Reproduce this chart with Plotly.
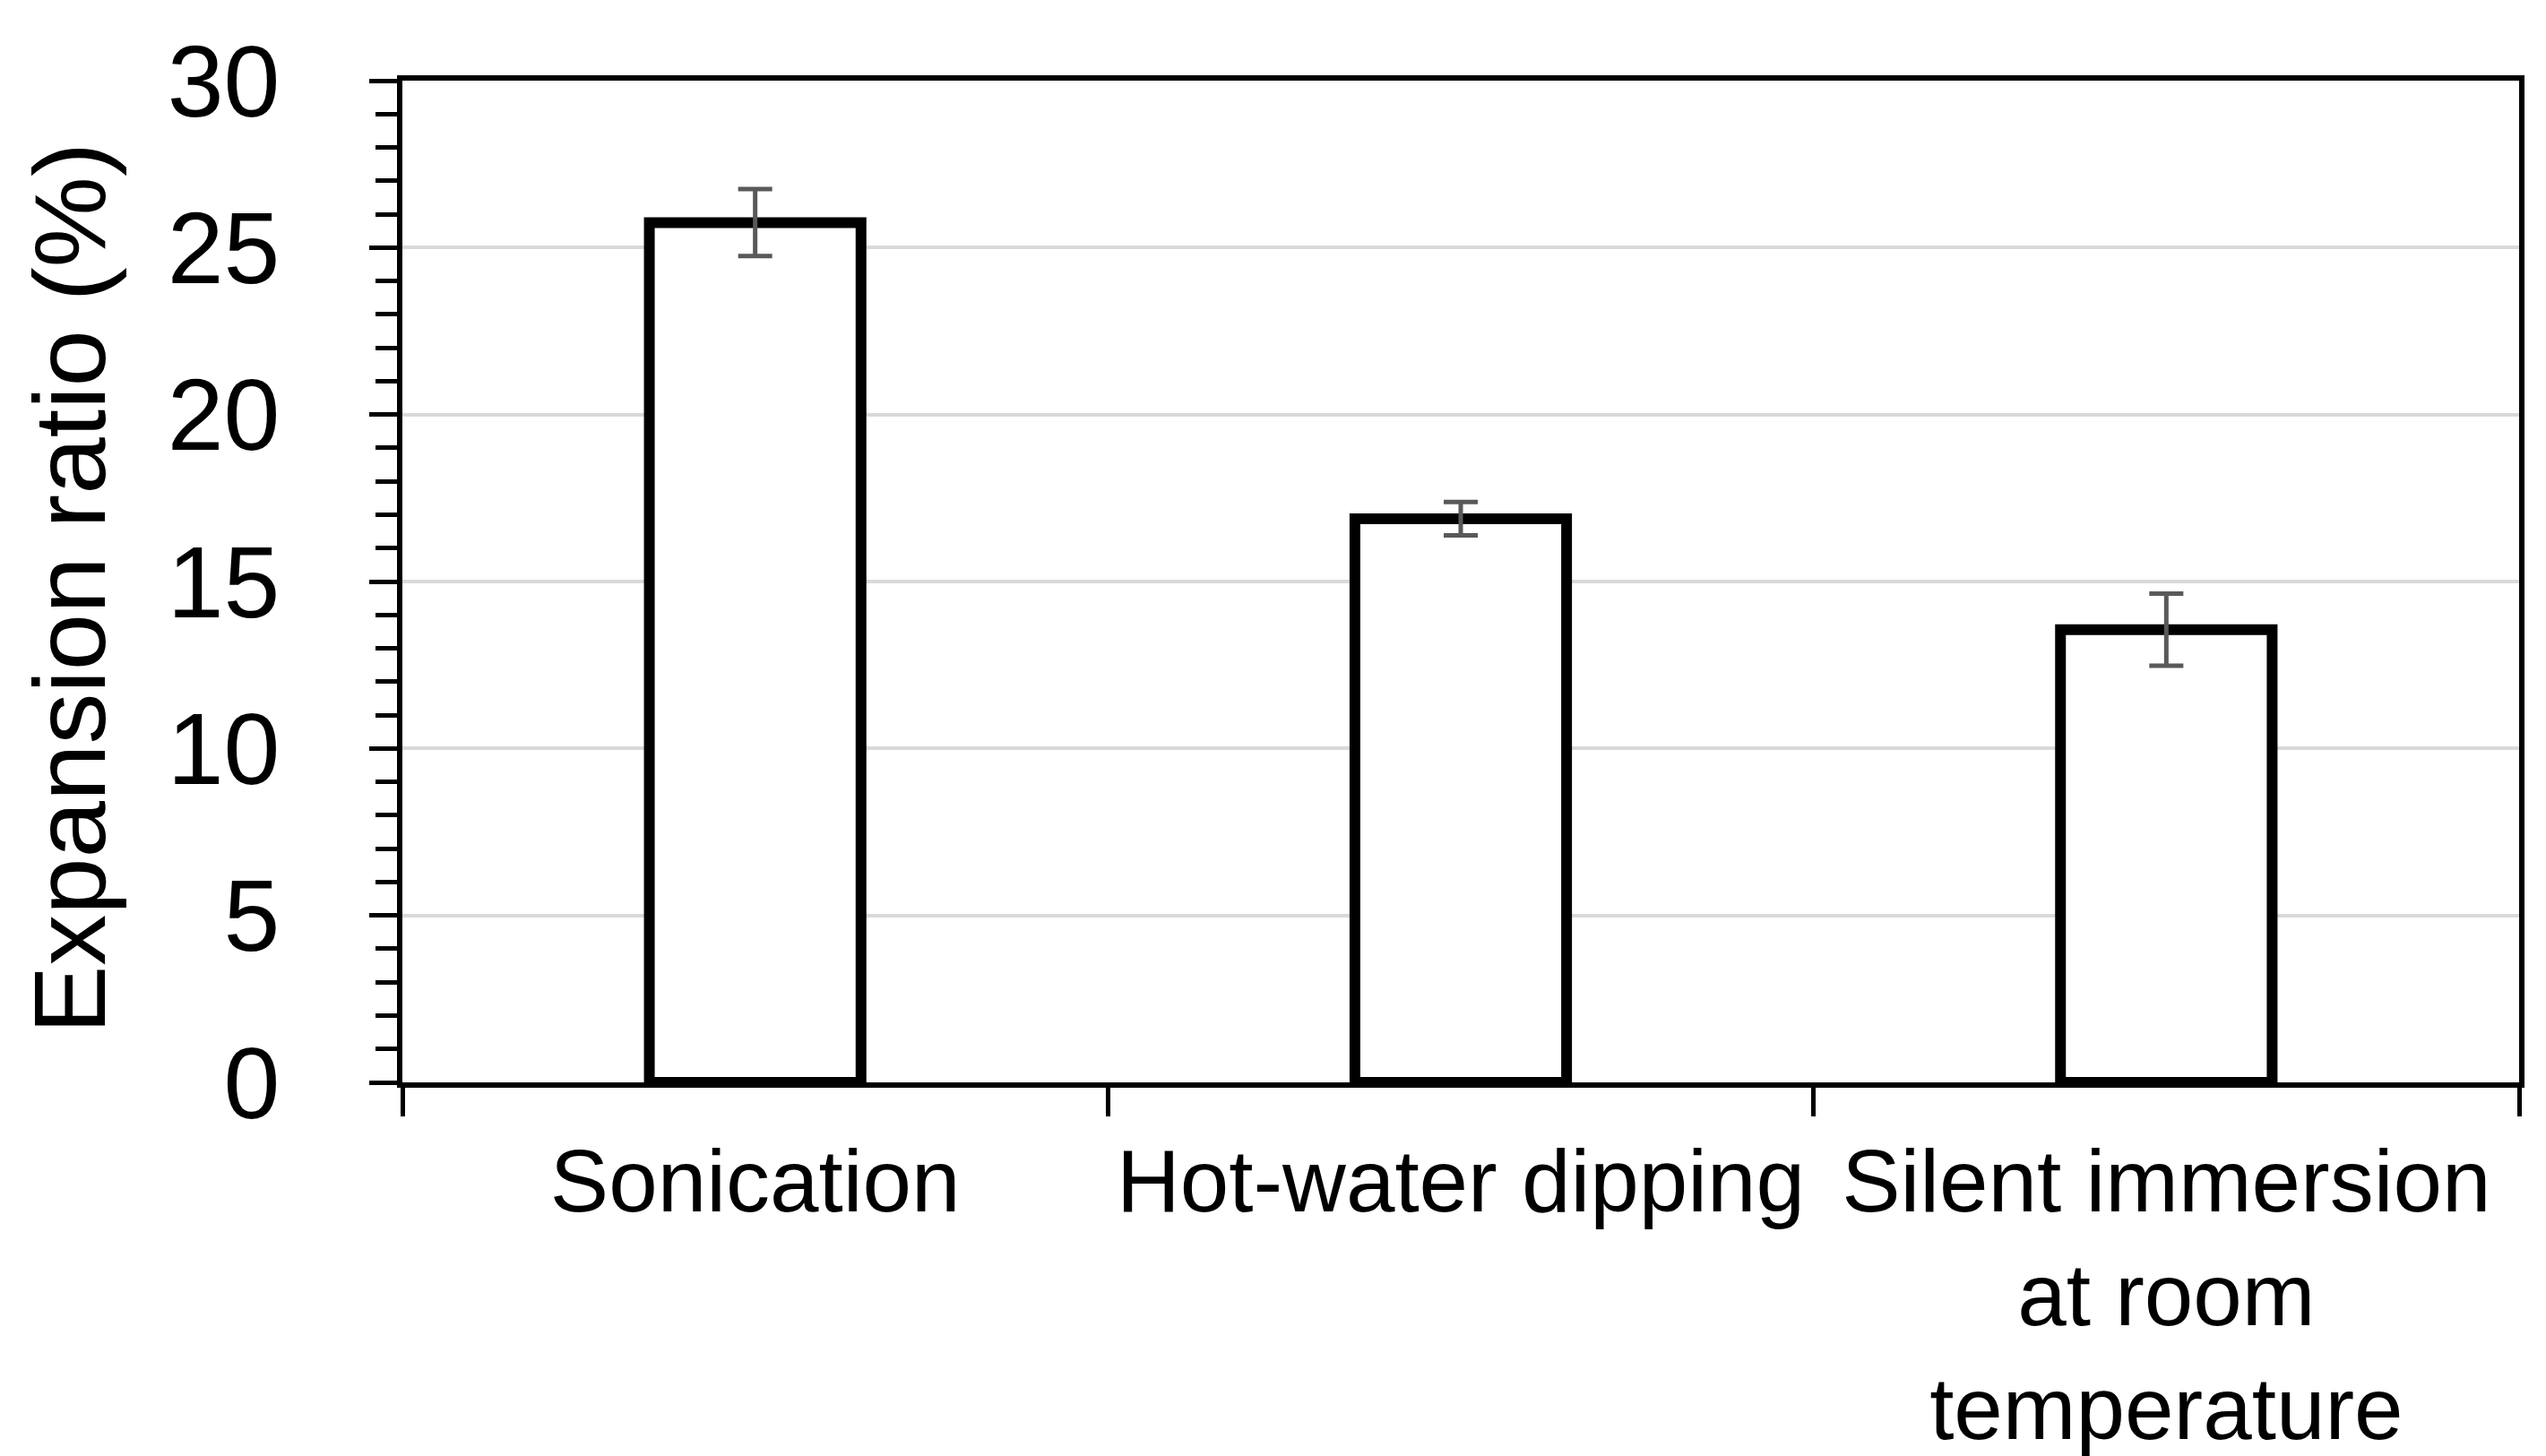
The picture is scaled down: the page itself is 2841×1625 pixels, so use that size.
import plotly.graph_objects as go

categories = ["Sonication", "Hot-water dipping", "Silent immersion<br>at room<br>temperature"]
expansion_ratio = [25.75, 16.88, 13.56]
error_sd = [1.0, 0.5, 1.08]
y_ticks = [0, 5, 10, 15, 20, 25, 30]

FONT = "Arial, Liberation Sans, sans-serif"

fig = go.Figure()
fig.add_trace(go.Bar(
    x=categories,
    y=expansion_ratio,
    marker=dict(color="white", line=dict(color="black", width=12)),
    error_y=dict(type="data", array=error_sd, visible=True,
                 color="#595959", thickness=5, width=19),
    cliponaxis=False,
    showlegend=False,
))

W, H = 2841, 1625
L, R, T, B = 441, 38, 82, 425
PW = W - L - R

fig.update_layout(
    width=W, height=H,
    margin=dict(l=L, r=R, t=T, b=B, pad=0),
    paper_bgcolor="white",
    plot_bgcolor="white",
    bargap=0.70,
    font=dict(family=FONT, color="black"),
    xaxis=dict(
        type="category",
        tickson="boundaries",
        ticks="outside", ticklen=32, tickwidth=5, tickcolor="black",
        showline=True, linewidth=6, linecolor="black", mirror=True,
        showgrid=False,
        tickangle=0,
        tickfont=dict(size=98, family=FONT, color="black"),
        ticklabelstandoff=20,
        automargin=False,
    ),
    yaxis=dict(
        range=[0, 30],
        tickvals=y_ticks,
        ticks="outside", ticklen=31, tickwidth=5, tickcolor="black",
        minor=dict(dtick=1, ticks="outside", ticklen=24, tickwidth=5,
                   tickcolor="black", showgrid=False),
        showline=True, linewidth=6, linecolor="black", mirror=True,
        showgrid=True, gridcolor="#d9d9d9", gridwidth=4,
        zeroline=False,
        tickfont=dict(size=113, family=FONT, color="black"),
        ticklabelstandoff=77,
        automargin=False,
    ),
    annotations=[dict(
        text="Expansion ratio (%)",
        xref="paper", yref="paper",
        x=(70 - L) / PW, y=0.493,
        xanchor="center", yanchor="middle",
        textangle=-90, showarrow=False,
        font=dict(size=114, family=FONT, color="black"),
    )],
)

fig.write_html("out.html")
